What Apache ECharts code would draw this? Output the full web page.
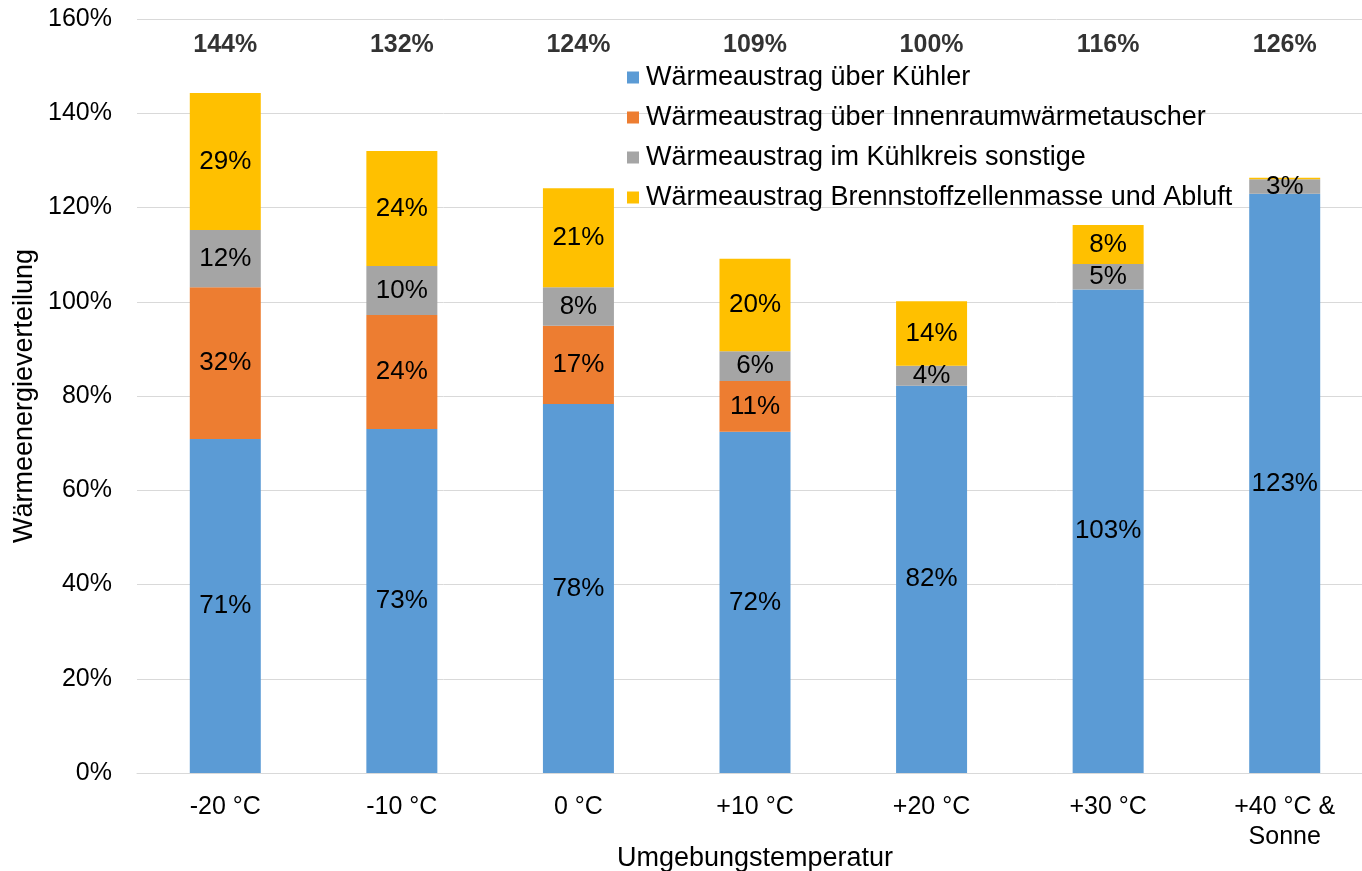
<!DOCTYPE html>
<html>
<head>
<meta charset="utf-8">
<script src="https://cdn.jsdelivr.net/npm/echarts@6/dist/echarts.min.js"></script>
<style>html,body{margin:0;padding:0;background:#fff}#c{width:1362px;height:871px}</style>
</head>
<body>
<div id="c"></div>
<script>
const categories = ['-20 °C', '-10 °C', '0 °C', '+10 °C', '+20 °C', '+30 °C', '+40 °C &\nSonne'];
const seriesNames = [
  'Wärmeaustrag über Kühler',
  'Wärmeaustrag über Innenraumwärmetauscher',
  'Wärmeaustrag im Kühlkreis sonstige',
  'Wärmeaustrag Brennstoffzellenmasse und Abluft'
];
const kuehler = [70.9, 73.0, 78.3, 72.4, 82.2, 102.6, 122.9];
const innenraum = [32.2, 24.2, 16.6, 10.8, 0, 0, 0];
const sonstige = [12.1, 10.4, 8.2, 6.3, 4.2, 5.4, 3.1];
const abluft = [29.1, 24.4, 21.0, 19.6, 13.7, 8.3, 0.3];
const yTicks = [0, 20, 40, 60, 80, 100, 120, 140, 160];

const colors = ['#5B9BD5', '#ED7D31', '#A5A5A5', '#FFC000'];
const FONT = '"Liberation Sans", Arial, sans-serif';
const totals = categories.map((_, i) => kuehler[i] + innenraum[i] + sonstige[i] + abluft[i]);
const totalsRow = 154.4;

const chart = echarts.init(document.getElementById('c'));
const segLabel = {
  show: true, position: 'inside', color: '#000', fontSize: 26, fontFamily: FONT,
  formatter: p => (p.value >= 1 ? Math.round(p.value) + '%' : '')
};
const datasets = [kuehler, innenraum, sonstige, abluft];
const series = datasets.map((d, i) => ({
  name: seriesNames[i], type: 'bar', stack: 'a', data: d, barWidth: 71,
  itemStyle: { color: colors[i] }, label: segLabel, emphasis: { disabled: true },
  labelLayout: { hideOverlap: false }
}));
series.push({
  name: 'totals', type: 'scatter', data: categories.map(() => totalsRow),
  symbolSize: 0, silent: true,
  label: {
    show: true, position: 'inside', color: '#000', fontSize: 25, fontWeight: 'bold', fontFamily: FONT,
    formatter: p => Math.round(totals[p.dataIndex]) + '%'
  }
});

chart.setOption({
  animation: false,
  textStyle: { fontFamily: FONT },
  grid: { left: 137, width: 1236, top: 19, bottom: 98, containLabel: false, outerBoundsMode: 'none' },
  legend: {
    data: seriesNames, orient: 'vertical', left: 622, top: 57,
    itemWidth: 12, itemHeight: 12, itemGap: 9, icon: 'rect',
    textStyle: { fontSize: 27, color: '#000', fontFamily: FONT, lineHeight: 31, padding: [0, 0, 0, 2] }
  },
  xAxis: {
    type: 'category', data: categories,
    axisLine: { lineStyle: { color: '#d9d9d9', width: 1 } },
    axisTick: { show: false },
    axisLabel: { color: '#000', fontSize: 25, margin: 19, lineHeight: 30, fontFamily: FONT },
    name: 'Umgebungstemperatur', nameLocation: 'middle', nameGap: 72, nameMoveOverlap: false,
    nameTextStyle: { color: '#000', fontSize: 27, fontFamily: FONT }
  },
  yAxis: {
    type: 'value', min: yTicks[0], max: yTicks[yTicks.length - 1], interval: 20,
    axisLine: { show: false }, axisTick: { show: false },
    splitLine: { lineStyle: { color: '#d9d9d9', width: 1 } },
    axisLabel: { color: '#000', fontSize: 25, margin: 25, formatter: '{value}%', fontFamily: FONT },
    name: 'Wärmeenergieverteilung', nameLocation: 'middle', nameGap: 99, nameMoveOverlap: false,
    nameTextStyle: { color: '#000', fontSize: 27, fontFamily: FONT }
  },
  series: series
});
</script>
</body>
</html>
